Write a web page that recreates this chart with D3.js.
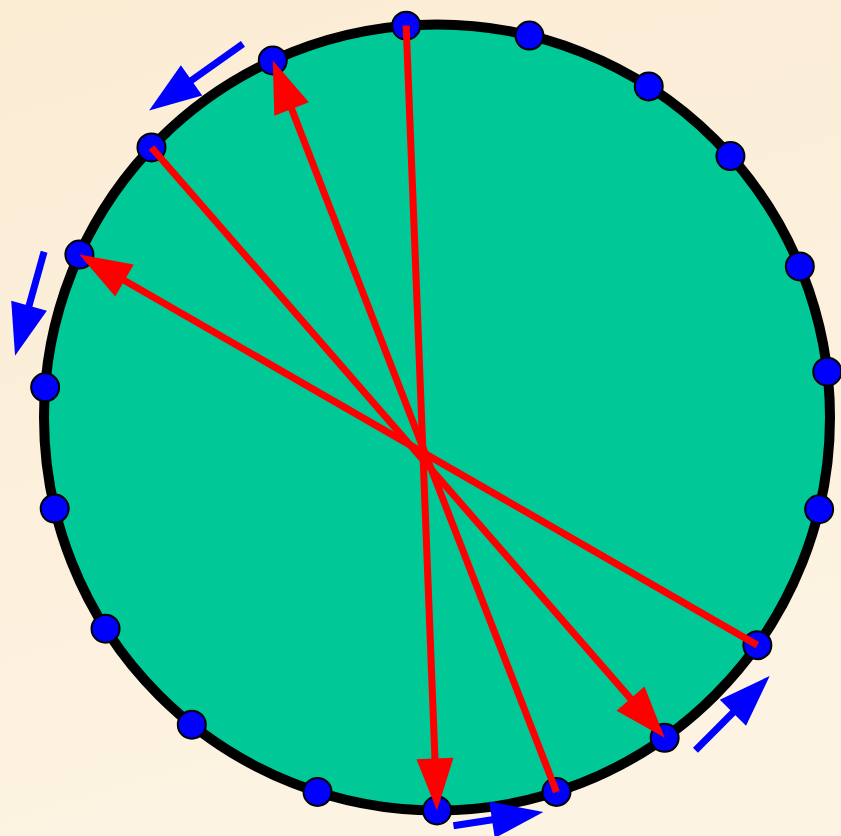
<!DOCTYPE html>
<html>
<head>
<meta charset="utf-8">
<script src="https://cdn.jsdelivr.net/npm/d3@7"></script>
<style>
  html, body { margin: 0; padding: 0; overflow: hidden; }
</style>
</head>
<body>
<div id="chart"></div>
<script>
const width = 841,
    height = 836;

// angles of the dots on the rim, degrees clockwise from the top
const dotAngles = [-4.5, 13.6, 32.6, 48.3, 67.4, 83.3, 103.5, 125.4, 144.6, 162.3,
    180, 197.7, 218.6, 237.5, 256.6, 274.4, 294.5, 313.4, 335.3];

// red chords: [from dot, to dot] (arrowhead at "to")
const chords = [
    [0, 10],
    [9, 18],
    [17, 8],
    [7, 16]
];

// blue rotation arrows outside the rim: angle of midpoint, distance from centre, length
const spinAngles = [324.7, 285.6, 171.3, 135];
const spinRadius = [417, 423, 406, 418];
const spinLength = [115, 108, 91, 105];

const cx = 437,
    cy = 417.5,
    R = 393;

const angle = d3.scaleLinear().domain([0, 360]).range([0, 2 * Math.PI]);

function polar(deg, r) {
    const a = angle(deg);
    return [cx + r * Math.sin(a), cy - r * Math.cos(a)];
}

const svg = d3
    .select('#chart')
    .append('svg')
    .attr('width', width)
    .attr('height', height);

const defs = svg.append('defs');
const bg = defs
    .append('linearGradient')
    .attr('id', 'bg')
    .attr('x1', 0)
    .attr('y1', 0)
    .attr('x2', 0.3)
    .attr('y2', 1);
bg.append('stop').attr('offset', '0%').attr('stop-color', '#fbecd4');
bg.append('stop').attr('offset', '100%').attr('stop-color', '#fdf3e2');

svg.append('rect').attr('width', width).attr('height', height).attr('fill', 'url(#bg)');

svg.append('circle')
    .attr('cx', cx)
    .attr('cy', cy)
    .attr('r', R)
    .attr('fill', '#00c896')
    .attr('stroke', '#000')
    .attr('stroke-width', 10);

svg.append('g')
    .selectAll('circle')
    .data(dotAngles)
    .enter()
    .append('circle')
    .attr('cx', (d) => polar(d, R)[0])
    .attr('cy', (d) => polar(d, R)[1])
    .attr('r', 14)
    .attr('fill', '#0000ff')
    .attr('stroke', '#000')
    .attr('stroke-width', 2);

const headLen = 52,
    headHalf = 18.5;

function arrow(g, p0, p1, color) {
    const dx = p1[0] - p0[0],
        dy = p1[1] - p0[1];
    const L = Math.hypot(dx, dy);
    const ux = dx / L,
        uy = dy / L;
    const bx = p1[0] - ux * headLen,
        by = p1[1] - uy * headLen;
    g.append('line')
        .attr('x1', p0[0])
        .attr('y1', p0[1])
        .attr('x2', bx + ux * 2)
        .attr('y2', by + uy * 2)
        .attr('stroke', color)
        .attr('stroke-width', 7);
    g.append('path')
        .attr('d', d3.line()([
            p1,
            [bx - uy * headHalf, by + ux * headHalf],
            [bx + uy * headHalf, by - ux * headHalf]
        ]) + 'Z')
        .attr('fill', color);
}

const red = svg.append('g').attr('class', 'chords');
chords.forEach((c) => {
    arrow(red, polar(dotAngles[c[0]], R), polar(dotAngles[c[1]], R), '#ff0000');
});

const blue = svg.append('g').attr('class', 'spin');
spinAngles.forEach((a, i) => {
    const m = polar(a, spinRadius[i]);
    const t = angle(a);
    // counter-clockwise tangent on screen
    const tx = -Math.cos(t),
        ty = -Math.sin(t);
    const h = spinLength[i] / 2;
    arrow(blue, [m[0] - tx * h, m[1] - ty * h], [m[0] + tx * h, m[1] + ty * h], '#0000ff');
});
</script>
</body>
</html>
